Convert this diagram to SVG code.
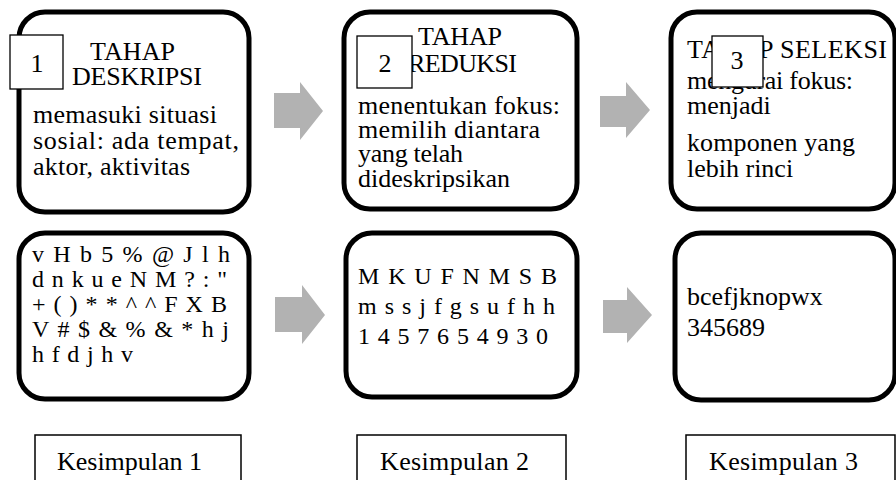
<svg xmlns="http://www.w3.org/2000/svg" width="896" height="480" viewBox="0 0 896 480" font-family="'Liberation Serif','Times New Roman',serif">
<style>
.box{fill:#fff;stroke:#000;stroke-width:5}
.sq{fill:#fff;stroke:#000;stroke-width:1.3}
.lab{fill:#fff;stroke:#000;stroke-width:1.5}
.arr{fill:#b2b2b2;stroke:none}
text{font-family:"Liberation Serif","Times New Roman",serif;fill:#000}
.t{font-size:26px}
.s{font-size:24px}
</style>
<rect width="896" height="480" fill="#fff"/>
<g id="connectors">
<polygon class="arr" points="274,93 300,93 300,82 323,111 300,140 300,128 274,128"/>
<polygon class="arr" points="600,96 626,96 626,82 650,110 626,138 626,127 600,127"/>
<polygon class="arr" points="275,297 302,297 302,285 325,315 302,344 302,332 275,332"/>
<polygon class="arr" points="603,300 627,300 627,287 652,315 627,343 627,333 603,333"/>
</g>
<g id="tahap1">
<rect class="box" x="19" y="12" width="230" height="200" rx="26"/>
<text class="t" x="90" y="60" textLength="85">TAHAP</text>
<text class="t" x="72" y="85" textLength="130">DESKRIPSI</text>
<text class="t" x="33" y="123" textLength="184">memasuki situasi</text>
<text class="t" x="33" y="149" textLength="206">sosial: ada tempat,</text>
<text class="t" x="33" y="175" textLength="157">aktor, aktivitas</text>
<rect class="sq" x="10" y="35" width="53" height="54"/>
<text class="t" x="37" y="72" text-anchor="middle">1</text>
</g>
<g id="tahap2">
<rect class="box" x="344" y="12" width="233" height="197" rx="26"/>
<text class="t" x="418" y="45" textLength="84">TAHAP</text>
<text class="t" x="408" y="72" textLength="109">REDUKSI</text>
<text class="t" x="358" y="114" textLength="202">menentukan fokus:</text>
<text class="t" x="358" y="138" textLength="182">memilih diantara</text>
<text class="t" x="358" y="162" textLength="105">yang telah</text>
<text class="t" x="358" y="187" textLength="152">dideskripsikan</text>
<rect class="sq" x="357" y="36" width="55" height="52"/>
<text class="t" x="385" y="72" text-anchor="middle">2</text>
</g>
<g id="tahap3">
<rect class="box" x="671" y="12" width="224" height="197" rx="26"/>
<text class="t" x="687" y="58" textLength="200">TAHAP SELEKSI</text>
<text class="t" x="687" y="89" textLength="166">mengurai fokus:</text>
<text class="t" x="687" y="114">menjadi</text>
<text class="t" x="687" y="151" textLength="168">komponen yang</text>
<text class="t" x="687" y="177">lebih rinci</text>
<rect class="sq" x="712" y="36" width="51" height="51"/>
<text class="t" x="737" y="69" text-anchor="middle">3</text>
</g>
<g id="data1">
<rect class="box" x="19" y="233" width="230" height="166" rx="26"/>
<text class="s" x="32" y="262" textLength="198" lengthAdjust="spacing">v H b 5 % @ J l h</text>
<text class="s" x="32" y="287" textLength="195" lengthAdjust="spacing">d n k u e N M ? : "</text>
<text class="s" x="32" y="312" textLength="195" lengthAdjust="spacing">+ ( ) * * ^ ^ F X B</text>
<text class="s" x="32" y="337" textLength="197" lengthAdjust="spacing">V # $ &amp; % &amp; * h j</text>
<text class="s" x="32" y="362" textLength="101" lengthAdjust="spacing">h f d j h v</text>
</g>
<g id="data2">
<rect class="box" x="346" y="233" width="231" height="164" rx="26"/>
<text class="s" x="358" y="284" textLength="199" lengthAdjust="spacing">M K U F N M S B</text>
<text class="s" x="358" y="314" textLength="197" lengthAdjust="spacing">m s s j f g s u f h h</text>
<text class="s" x="358" y="344" textLength="190" lengthAdjust="spacing">1 4 5 7 6 5 4 9 3 0</text>
</g>
<g id="data3">
<rect class="box" x="675" y="233" width="220" height="167" rx="26"/>
<text class="t" x="687" y="305">bcefjknopwx</text>
<text class="t" x="687" y="336">345689</text>
</g>
<g id="kesimpulan1">
<rect class="lab" x="35" y="435" width="206" height="60"/>
<text class="t" x="57" y="470" textLength="145">Kesimpulan 1</text>
</g>
<g id="kesimpulan2">
<rect class="lab" x="357" y="435" width="209" height="60"/>
<text class="t" x="380" y="470" textLength="149">Kesimpulan 2</text>
</g>
<g id="kesimpulan3">
<rect class="lab" x="686" y="435" width="209" height="60"/>
<text class="t" x="709" y="470" textLength="149">Kesimpulan 3</text>
</g>
</svg>
